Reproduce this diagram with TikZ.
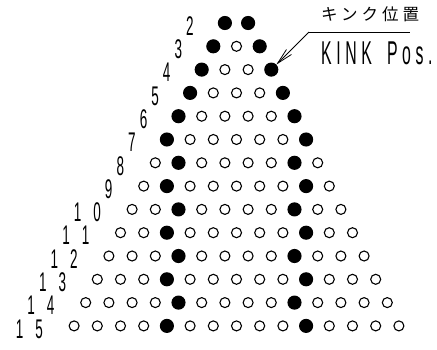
\documentclass[tikz,border=0pt]{standalone}
\usepackage{fontspec}
\usepackage{tikz}
\usetikzlibrary{arrows.meta,positioning,calc}
\newfontfamily\cadfont[FakeStretch=0.5]{Liberation Sans}
\newfontfamily\cadwide[FakeStretch=0.48,LetterSpace=14]{Liberation Sans}
\newfontfamily\jpfont[LetterSpace=24]{Noto Sans CJK JP}
\tikzset{
  dot/.style      = {draw, circle, line width=1.1pt, inner sep=0pt},
  rowlabel/.style = {font=\cadfont\fontsize{27}{27}\selectfont, inner sep=0pt},
  leader/.style   = {line width=0.8pt},
  kinkarrow/.style= {-{Straight Barb[length=16pt,width=7pt]}, line width=0.8pt},
}
\begin{document}
\begin{tikzpicture}[x=1pt,y=-1pt]
\useasboundingbox (0,0) rectangle (437,349);
% ---- triangle of pins, rows 2..15 ----
\foreach \n in {2,...,15}{
  \pgfmathtruncatemacro\lft{max(0,floor((\n-6)/2))}
  \pgfmathtruncatemacro\rgt{\n-1-\lft}
  \pgfmathtruncatemacro\last{\n-1}
  \pgfmathsetmacro\py{23+(\n-2)*23.3}
  \foreach \i in {0,...,\last}{
    \pgfmathsetmacro\px{236.5+(\i-(\n-1)/2)*23.2}
    \def\fillcol{white}\def\dsize{10pt}
    \ifnum\i=\lft \def\fillcol{black}\def\dsize{13pt}\fi
    \ifnum\i=\rgt \def\fillcol{black}\def\dsize{13pt}\fi
    \node[dot, fill=\fillcol, minimum size=\dsize] (d-\n-\i) at (\px,\py) {};
  }
  \node[rowlabel, anchor=east] (lab-\n) at ($(d-\n-0)+(-31,3)$)
    {\ifnum\n<10 \n\else 1\hspace{12pt}\the\numexpr\n-10\relax\fi};
}
% ---- kink position callout ----
\coordinate (bend) at (309,32);
\coordinate (lineend) at (410,32);
\draw[leader] (bend) -- (lineend);
\draw[kinkarrow] (bend) -- (d-4-3);
\node[font=\jpfont\fontsize{16.5}{16.5}\selectfont, anchor=west, inner sep=0pt]
  (kinkjp) at (321,14) {キンク位置};
\node[font=\cadwide\fontsize{33}{33}\selectfont, anchor=west, inner sep=0pt]
  (kinken) at (321,53) {KINK\hspace{6pt} Pos.};
\end{tikzpicture}
\end{document}
